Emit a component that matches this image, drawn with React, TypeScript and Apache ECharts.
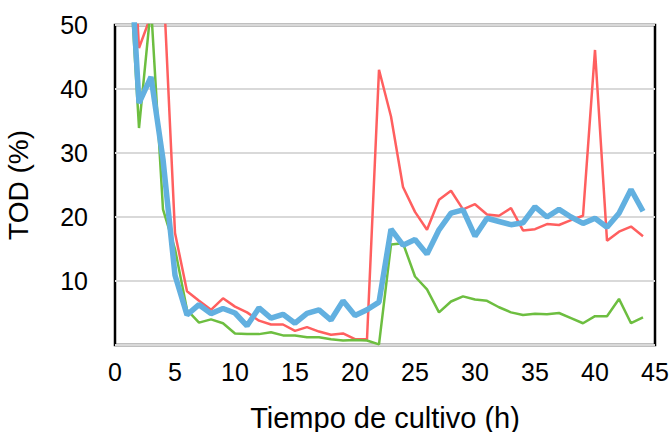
import React, { useEffect, useRef } from "react";
import * as echarts from "echarts";

const hours = [1,2,3,4,5,6,7,8,9,10,11,12,13,14,15,16,17,18,19,20,21,22,23,24,25,26,27,28,29,30,31,32,33,34,35,36,37,38,39,40,41,42,43,44];
const redSeries = [80,46.4,51.5,58,17.5,8.4,6.9,5.5,7.3,6.0,5.1,3.8,3.2,3.2,2.2,2.8,2.1,1.6,1.8,0.9,0.9,43.0,35.7,24.7,20.8,18.0,22.7,24.1,21.2,22.0,20.4,20.2,21.4,17.9,18.1,18.9,18.75,19.5,20.2,46.1,16.3,17.7,18.5,17.0];
const greenSeries = [66,33.9,53,21.2,15,5.5,3.5,4.0,3.4,1.8,1.7,1.7,2.0,1.5,1.5,1.2,1.2,0.9,0.7,0.8,0.7,0.1,15.7,15.9,10.7,8.7,5.1,6.8,7.6,7.1,6.9,5.9,5.1,4.7,4.9,4.8,5.0,4.2,3.4,4.5,4.5,7.2,3.4,4.3];
const blueSeries = [70,37.8,41.9,29,10.9,4.7,6.3,4.9,5.7,5.0,3.0,5.8,4.2,4.8,3.4,4.95,5.5,3.9,6.9,4.6,5.5,6.7,18.1,15.6,16.5,14.2,18.0,20.6,21.1,17.0,19.8,19.3,18.8,19.1,21.6,20.0,21.2,20.0,19.0,19.8,18.4,20.6,24.3,20.9];

const xTitle = "Tiempo de cultivo (h)";
const yTitle = "TOD (%)";

const FONT = "'Liberation Sans', Arial, Helvetica, sans-serif";

export default function App() {
  const ref = useRef<HTMLDivElement>(null);
  useEffect(() => {
    document.body.style.margin = "0";
    if (!ref.current) return;
    const chart = echarts.init(ref.current, null, { renderer: "svg" });
    const mk = (vals: number[]) => hours.map((h, i) => [h, vals[i]]);
    chart.setOption({
      animation: false,
      backgroundColor: "#ffffff",
      grid: {
        left: 115,
        right: 15,
        top: 25,
        bottom: 87,
        outerBoundsMode: "none",
        containLabel: false,
        show: true,
        borderColor: "#000",
        borderWidth: 2.5,
        backgroundColor: "transparent",
      },
      xAxis: {
        type: "value",
        min: 0,
        max: 45,
        interval: 5,
        name: xTitle,
        nameLocation: "middle",
        nameGap: 58,
        nameTextStyle: { fontFamily: FONT, fontSize: 29, color: "#000" },
        axisLine: { show: false },
        axisTick: { show: false },
        splitLine: { show: false },
        axisLabel: { fontFamily: FONT, fontSize: 25, color: "#000", margin: 14 },
      },
      yAxis: {
        type: "value",
        min: 0,
        max: 50,
        interval: 10,
        name: yTitle,
        nameLocation: "middle",
        nameGap: 83,
        nameTextStyle: { fontFamily: FONT, fontSize: 28, color: "#000" },
        axisLine: { show: false },
        axisTick: { show: false },
        splitLine: { show: true, lineStyle: { color: "#d9d9d9", width: 2 } },
        axisLabel: { fontFamily: FONT, fontSize: 25, color: "#000", margin: 27, showMinLabel: false },
      },
      series: [
        {
          type: "line",
          data: mk(redSeries),
          showSymbol: false,
          lineStyle: { color: "#FF5F5F", width: 2.5 },
          itemStyle: { color: "#FF5F5F" },
          z: 2,
        },
        {
          type: "line",
          data: mk(greenSeries),
          showSymbol: false,
          lineStyle: { color: "#6DBE40", width: 2.5 },
          itemStyle: { color: "#6DBE40" },
          z: 3,
        },
        {
          type: "line",
          data: mk(blueSeries),
          showSymbol: false,
          lineStyle: { color: "#62B0E0", width: 5.5 },
          itemStyle: { color: "#62B0E0" },
          z: 4,
        },
      ],
    });
    return () => chart.dispose();
  }, []);
  return <div ref={ref} style={{ width: 670, height: 432 }} />;
}
